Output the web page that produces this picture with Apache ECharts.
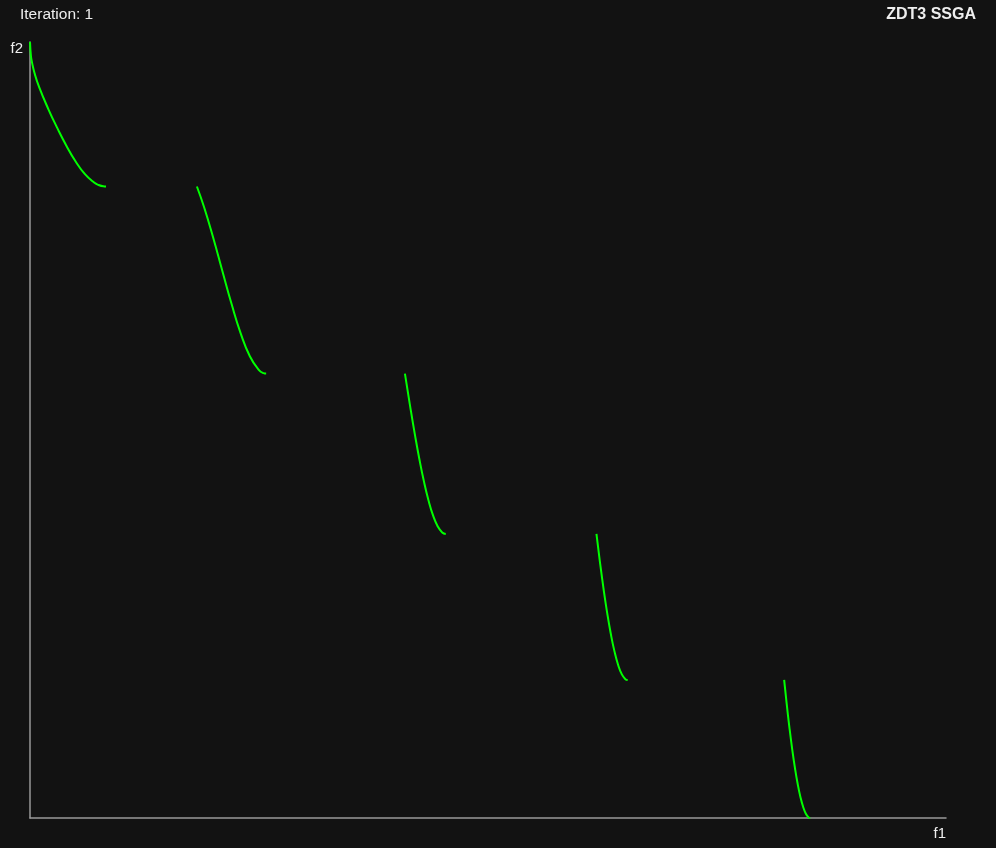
<!DOCTYPE html>
<html>
<head>
<meta charset="utf-8">
<script src="https://cdn.jsdelivr.net/npm/echarts@6/dist/echarts.min.js"></script>
<style>
html,body{margin:0;padding:0;background:#121212;}
#chart{width:996px;height:848px;}
</style>
</head>
<body>
<div id="chart"></div>
<script>
// Pareto front segments (f1, f2)
const seg1F1 = [0, 0.001, 0.002, 0.005, 0.01, 0.02, 0.03, 0.04, 0.05, 0.06, 0.07, 0.075, 0.08, 0.083];
const seg1F2 = [1, 0.9684, 0.9552, 0.9285, 0.8969, 0.8468, 0.8025, 0.7620, 0.7264, 0.6980, 0.6788, 0.6731, 0.6701, 0.6697];
const seg2F1 = [0.1822, 0.19, 0.2, 0.21, 0.22, 0.23, 0.24, 0.25, 0.255, 0.2578];
const seg2F2 = [0.6698, 0.6228, 0.5528, 0.4769, 0.4017, 0.3343, 0.2819, 0.25, 0.2432, 0.2422];
const seg3F1 = [0.4093, 0.415, 0.42, 0.425, 0.43, 0.435, 0.44, 0.445, 0.45, 0.4539];
const seg3F2 = [0.2423, 0.1674, 0.1051, 0.0476, -0.0036, -0.0471, -0.0818, -0.1066, -0.1208, -0.1242];
const seg4F1 = [0.6184, 0.622, 0.626, 0.63, 0.634, 0.638, 0.642, 0.646, 0.65, 0.6525];
const seg4F2 = [-0.1242, -0.1852, -0.2475, -0.3034, -0.3518, -0.3920, -0.4231, -0.4446, -0.4562, -0.4583];
const seg5F1 = [0.8233, 0.826, 0.829, 0.832, 0.835, 0.838, 0.841, 0.844, 0.847, 0.85, 0.8518];
const seg5F2 = [-0.4577, -0.5110, -0.5655, -0.6146, -0.6578, -0.6946, -0.7247, -0.7477, -0.7636, -0.7720, -0.7734];

const segments = [[seg1F1, seg1F2], [seg2F1, seg2F2], [seg3F1, seg3F2], [seg4F1, seg4F2], [seg5F1, seg5F2]];
const titleLeft = 'Iteration: 1';
const titleRight = 'ZDT3 SSGA';
const xName = 'f1';
const yName = 'f2';

const chart = echarts.init(document.getElementById('chart'));
const font = '"Liberation Sans", Arial, sans-serif';
chart.setOption({
  backgroundColor: '#121212',
  animation: false,
  title: [
    { text: titleLeft, left: 20, top: 7, padding: 0,
      textStyle: { color: '#eeeeee', fontSize: 15.5, fontWeight: 'normal', fontFamily: font } },
    { text: titleRight, right: 20, top: 7, padding: 0,
      textStyle: { color: '#eeeeee', fontSize: 16, fontWeight: 'bold', fontFamily: font } }
  ],
  grid: { left: 30, right: 50, top: 42, bottom: 30, containLabel: false },
  xAxis: {
    type: 'value', min: 0, max: 1,
    name: xName, nameLocation: 'end', nameGap: 0,
    nameTextStyle: { color: '#eeeeee', fontSize: 15, fontFamily: font, align: 'right', verticalAlign: 'top', padding: [8, 0, 0, 0] },
    axisLine: { show: true, onZero: false, lineStyle: { color: '#999999', width: 1.5 } },
    axisTick: { show: false }, axisLabel: { show: false }, splitLine: { show: false }
  },
  yAxis: {
    type: 'value', min: -0.7734, max: 1,
    name: yName, nameLocation: 'end', nameGap: -7,
    nameTextStyle: { color: '#eeeeee', fontSize: 15, fontFamily: font, align: 'right', verticalAlign: 'middle', padding: [0, 7, 0, 0] },
    axisLine: { show: true, onZero: false, lineStyle: { color: '#999999', width: 1.5 } },
    axisTick: { show: false }, axisLabel: { show: false }, splitLine: { show: false }
  },
  series: segments.map(s => ({
    type: 'line',
    data: s[0].map((x, i) => [x, s[1][i]]),
    showSymbol: false,
    smooth: true,
    lineStyle: { color: '#00ff00', width: 2 },
    silent: true
  }))
});
</script>
</body>
</html>
